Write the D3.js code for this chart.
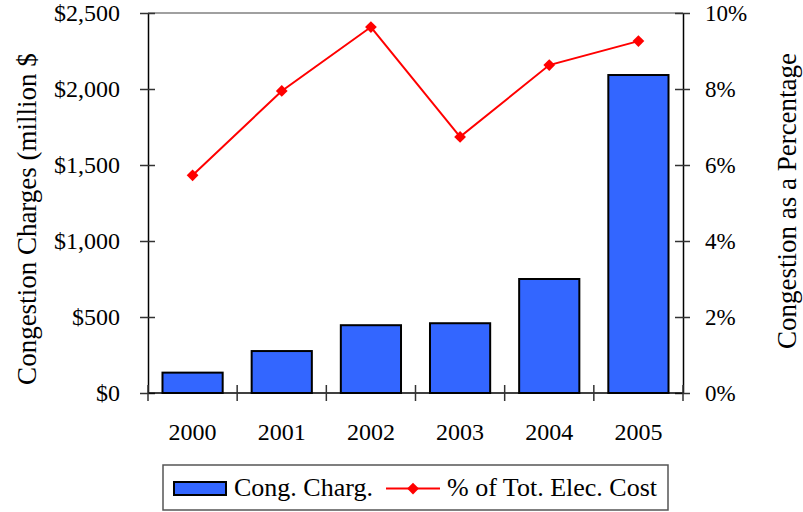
<!DOCTYPE html>
<html>
<head>
<meta charset="utf-8">
<script src="https://cdn.jsdelivr.net/npm/d3@7"></script>
<style>
  html, body { margin: 0; padding: 0; background: #fff; }
  svg { display: block; }
</style>
</head>
<body>
<svg id="chart" width="803" height="512"></svg>
<script>
// Congestion charges by year, with congestion share of total electricity cost
const years = ["2000", "2001", "2002", "2003", "2004", "2005"];
const congCharges = [134, 276, 446, 459, 750, 2092];          // million $
const pctOfCost = [5.73, 7.95, 9.63, 6.74, 8.63, 9.26];        // percent
const leftTicks = [0, 500, 1000, 1500, 2000, 2500];
const rightTicks = [0, 2, 4, 6, 8, 10];

const FONT = "'Liberation Serif', 'Times New Roman', Times, serif";

const svg = d3.select("#chart");
const m = { left: 148, right: 683, top: 13, bottom: 393 };

const x = d3.scaleBand().domain(years).range([m.left, m.right]).paddingInner(0.325).paddingOuter(0.1625);
const xPoint = d => x(d) + x.bandwidth() / 2;
const yL = d3.scaleLinear().domain([0, 2500]).range([m.bottom, m.top]);
const yR = d3.scaleLinear().domain([0, 10]).range([m.bottom, m.top]);

// top frame line
svg.append("line")
  .attr("x1", m.left).attr("x2", m.right)
  .attr("y1", m.top).attr("y2", m.top)
  .attr("stroke", "#808080").attr("stroke-width", 1.5);

// bars
svg.append("g").selectAll("rect").data(years).join("rect")
  .attr("x", d => x(d))
  .attr("width", x.bandwidth())
  .attr("y", (d, i) => yL(congCharges[i]))
  .attr("height", (d, i) => yL(0) - yL(congCharges[i]))
  .attr("fill", "#3366FF")
  .attr("stroke", "#000").attr("stroke-width", 2);

// left axis
const leftAxis = d3.axisLeft(yL).tickValues(leftTicks)
  .tickFormat(d => "$" + d3.format(",")(d)).tickSizeInner(8).tickSizeOuter(0).tickPadding(20);
const gL = svg.append("g").attr("transform", `translate(${m.left},0)`).call(leftAxis)
  .attr("font-family", FONT).attr("font-size", 24);
gL.selectAll(".tick line").attr("x2", -8).attr("x1", 7).attr("stroke", "#333").attr("stroke-width", 1.5);
gL.select(".domain").attr("stroke", "#000").attr("stroke-width", 1.5);
gL.selectAll("text").attr("fill", "#000");

// right axis
const rightAxis = d3.axisRight(yR).tickValues(rightTicks)
  .tickFormat(d => d + "%").tickSizeInner(8).tickSizeOuter(0).tickPadding(14);
const gR = svg.append("g").attr("transform", `translate(${m.right},0)`).call(rightAxis)
  .attr("font-family", FONT).attr("font-size", 23);
gR.selectAll(".tick line").attr("x1", -8).attr("x2", 7).attr("stroke", "#333").attr("stroke-width", 1.5);
gR.select(".domain").attr("stroke", "#000").attr("stroke-width", 1.5);
gR.selectAll("text").attr("fill", "#000");

// bottom axis: ticks sit on category boundaries
const boundaries = d3.range(years.length + 1).map(i => m.left + i * (m.right - m.left) / years.length);
const gB = svg.append("g").attr("font-family", FONT).attr("font-size", 24);
gB.append("line").attr("x1", m.left).attr("x2", m.right).attr("y1", m.bottom).attr("y2", m.bottom)
  .attr("stroke", "#000").attr("stroke-width", 1.5);
gB.selectAll("line.tk").data(boundaries).join("line").attr("class", "tk")
  .attr("x1", d => d).attr("x2", d => d).attr("y1", m.bottom - 8).attr("y2", m.bottom + 8)
  .attr("stroke", "#333").attr("stroke-width", 1.5);
gB.selectAll("text").data(years).join("text")
  .attr("x", d => xPoint(d)).attr("y", 440)
  .attr("text-anchor", "middle").text(d => d);

// percentage line
const line = d3.line().x((d, i) => xPoint(years[i])).y(d => yR(d));
svg.append("path").datum(pctOfCost).attr("d", line)
  .attr("fill", "none").attr("stroke", "#FF0000").attr("stroke-width", 2);
const diamond = d3.symbol().type(d3.symbolDiamond2).size(88);
svg.append("g").selectAll("path").data(pctOfCost).join("path")
  .attr("d", diamond)
  .attr("transform", (d, i) => `translate(${xPoint(years[i])},${yR(d)})`)
  .attr("fill", "#FF0000");

// axis titles
const titles = svg.append("g").attr("font-family", FONT).attr("font-size", 27);
titles.append("text").attr("transform", "translate(36,219) rotate(-90)")
  .attr("text-anchor", "middle").text("Congestion Charges (million $");
titles.append("text").attr("transform", "translate(796,201) rotate(-90)")
  .attr("text-anchor", "middle").text("Congestion as a Percentage");

// legend
const lg = svg.append("g").attr("font-family", FONT).attr("font-size", 26);
lg.append("rect").attr("x", 163).attr("y", 465).attr("width", 505).attr("height", 45)
  .attr("fill", "#fff").attr("stroke", "#555").attr("stroke-width", 1.5);
lg.append("rect").attr("x", 174).attr("y", 482).attr("width", 52).attr("height", 13)
  .attr("fill", "#3366FF").attr("stroke", "#000").attr("stroke-width", 2);
lg.append("text").attr("x", 234).attr("y", 496).text("Cong. Charg.");
lg.append("line").attr("x1", 386).attr("x2", 440).attr("y1", 488.5).attr("y2", 488.5)
  .attr("stroke", "#FF0000").attr("stroke-width", 2);
lg.append("path").attr("d", diamond).attr("transform", "translate(413,488.5)").attr("fill", "#FF0000");
lg.append("text").attr("x", 447).attr("y", 496).text("% of Tot. Elec. Cost");
</script>
</body>
</html>
